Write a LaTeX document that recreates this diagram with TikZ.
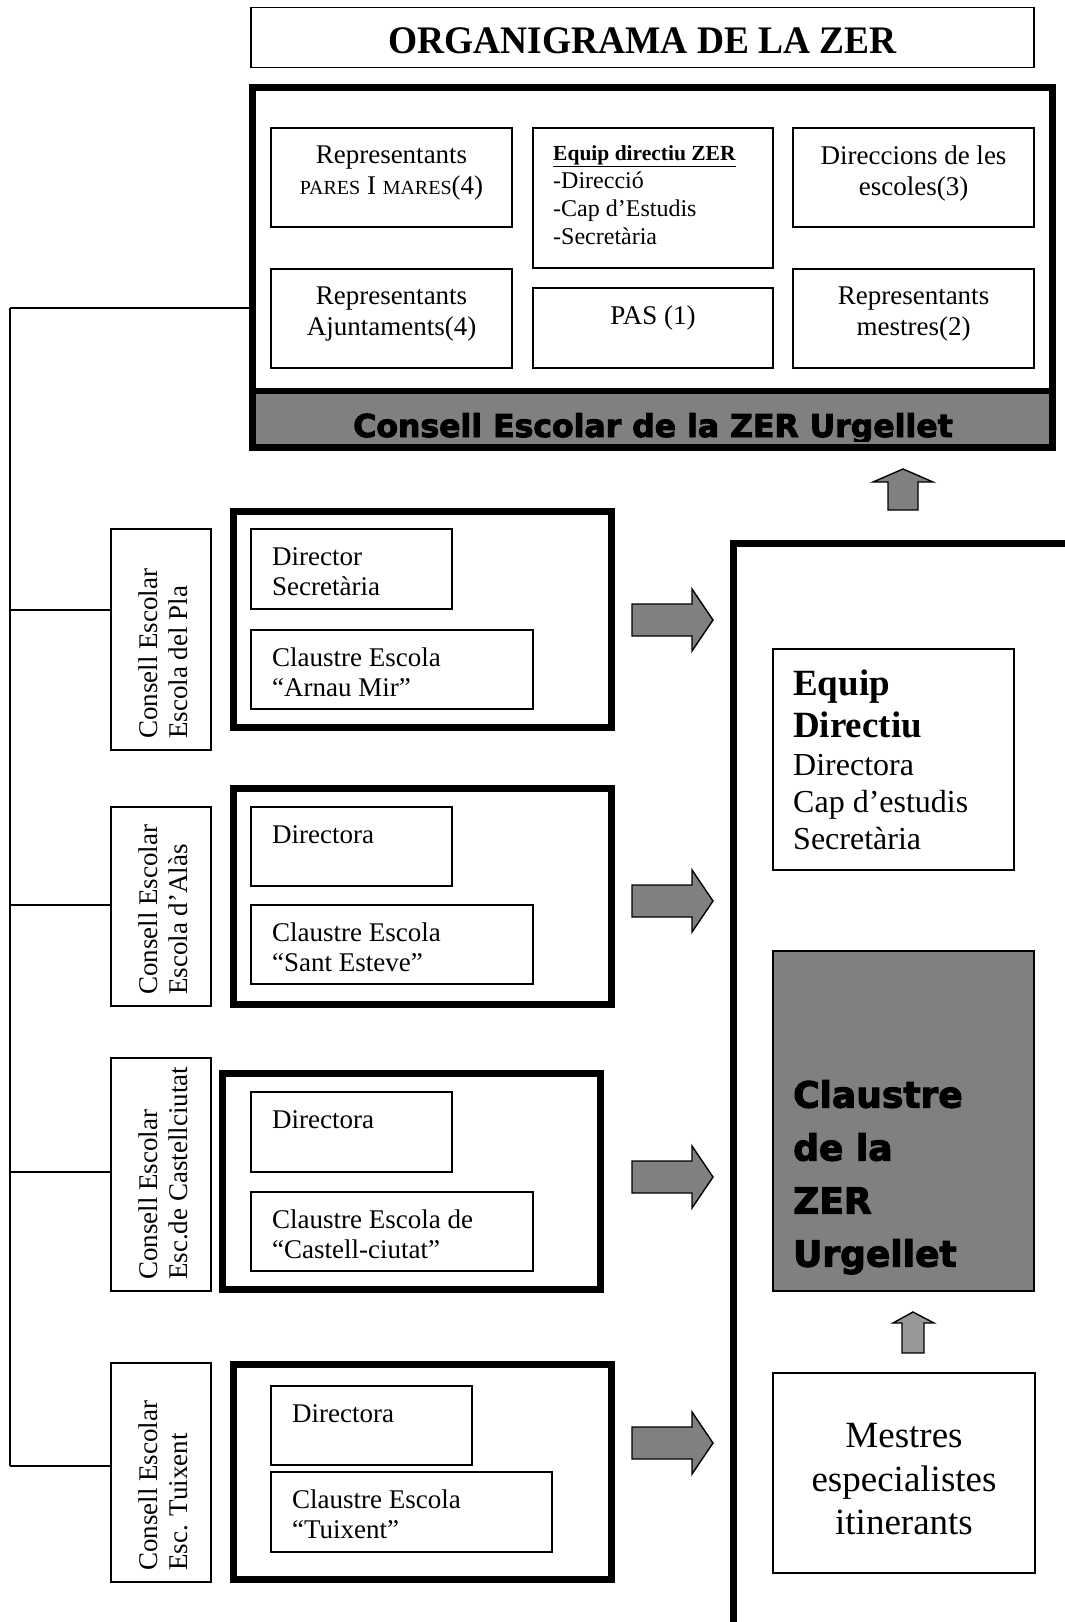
\documentclass[tikz,border=0pt]{standalone}
\usepackage{fontspec}
\setmainfont{Liberation Serif}
\newfontfamily\heavyfont[BoldFeatures={FakeBold=3}]{DejaVu Sans}
\usepackage{graphicx}
\usetikzlibrary{calc}
\definecolor{bargray}{HTML}{808080}
\definecolor{arrowgray}{HTML}{808080}
\definecolor{lightarrow}{HTML}{989898}
\newcommand\fsc[1]{{\fontsize{20}{31}\selectfont #1}}
\begin{document}
\begin{tikzpicture}[x=1pt,y=-1pt,
  thinbox/.style={draw, line width=1.6pt, inner sep=0pt, outer sep=0pt, anchor=north west},
  thickbox/.style={draw, line width=7pt, inner sep=0pt, outer sep=0pt, anchor=north west},
  txt/.style={inner sep=0pt, font=\fontsize{27}{31}\selectfont},
  schooltxt/.style={inner sep=0pt, anchor=north west, align=left, font=\fontsize{27}{30}\selectfont},
  rottxt/.style={inner sep=0pt, rotate=90, anchor=north west, align=left, font=\fontsize{27}{30}\selectfont},
  heavy/.style={inner sep=0pt, font=\heavyfont\bfseries},
  blockarrow/.style={fill=arrowgray, draw=black, line width=1.4pt, line join=miter},
  conn/.style={draw, line width=1.6pt}]
\useasboundingbox (0,0) rectangle (1065,1622);
\fill[white] (0,0) rectangle (1065,1622);

% Title
\node[thinbox, minimum width=783pt, minimum height=60pt] (title) at (251,7.5) {};
\node[inner sep=0pt, anchor=base, font=\fontsize{39}{44}\selectfont\bfseries] (titletext) at ([yshift=-15.5pt]title.center) {\scalebox{0.96}[1]{ORGANIGRAMA DE LA ZER}};

% Consell Escolar de la ZER
\coordinate (sepl) at (252.5,391);
\coordinate (sepr) at (1052.5,391);
\fill[bargray] (sepl) rectangle (1052.5,447.5);
\begin{scope}
\clip (252.5,391) rectangle (1052.5,441);
\node[heavy, anchor=base, font=\heavyfont\bfseries\fontsize{31.5}{36}\selectfont] (cetext) at (653,437) {Consell Escolar de la ZER Urgellet};
\end{scope}
\node[thickbox, minimum width=800pt, minimum height=360pt] (ce) at (252.5,87.5) {};
\draw[line width=6pt] (sepl) -- (sepr);

\node[thinbox, minimum width=241pt, minimum height=99pt] (A) at (271,128) {};
\node[thinbox, minimum width=240pt, minimum height=140pt] (B) at (533,128) {};
\node[thinbox, minimum width=241pt, minimum height=99pt] (C) at (793,128) {};
\node[thinbox, minimum width=241pt, minimum height=99pt] (D) at (271,269) {};
\node[thinbox, minimum width=240pt, minimum height=80pt] (E) at (533,288) {};
\node[thinbox, minimum width=241pt, minimum height=99pt] (F) at (793,269) {};

\node[txt, anchor=north, align=center] (Atext) at ([yshift=-18pt]A.north) {Representants\\\fsc{PARES} I \fsc{MARES}(4)};
\node[inner sep=0pt, anchor=north west, align=left, font=\fontsize{24}{28}\selectfont] (Btext) at ([xshift=20pt,yshift=-17pt]B.north west) {{\fontsize{21.5}{28}\selectfont\bfseries\underline{Equip directiu ZER}}\\-Direcció\\-Cap d’Estudis\\-Secretària};
\node[txt, anchor=north, align=center] (Ctext) at ([yshift=-18pt]C.north) {Direccions de les\\escoles(3)};
\node[txt, anchor=north, align=center] (Dtext) at ([yshift=-18pt]D.north) {Representants\\Ajuntaments(4)};
\node[txt, anchor=north, align=center] (Etext) at ([yshift=-18pt]E.north) {PAS (1)};
\node[txt, anchor=north, align=center] (Ftext) at ([yshift=-18pt]F.north) {Representants\\mestres(2)};

% Consell Escolar boxes (rotated)
\node[thinbox, minimum width=100pt, minimum height=221pt] (S1) at (111,529) {};
\node[thinbox, minimum width=100pt, minimum height=199pt] (S2) at (111,807) {};
\node[thinbox, minimum width=100pt, minimum height=233pt] (S3) at (111,1058) {};
\node[thinbox, minimum width=100pt, minimum height=219pt] (S4) at (111,1363) {};
\node[rottxt] (S1t) at ([xshift=28pt,yshift=11pt]S1.south west) {Consell Escolar\\Escola del Pla};
\node[rottxt] (S2t) at ([xshift=28pt,yshift=11pt]S2.south west) {Consell Escolar\\Escola d’Alàs};
\node[rottxt] (S3t) at ([xshift=28pt,yshift=11pt]S3.south west) {Consell Escolar\\Esc.de Castellciutat};
\node[rottxt] (S4t) at ([xshift=28pt,yshift=11pt]S4.south west) {Consell Escolar\\Esc. Tuixent};

% School blocks
\node[thickbox, minimum width=378pt, minimum height=216pt] (T1) at (233.5,511.5) {};
\node[thickbox, minimum width=378pt, minimum height=216pt] (T2) at (233.5,788.5) {};
\node[thickbox, minimum width=378pt, minimum height=216pt] (T3) at (222.5,1073.5) {};
\node[thickbox, minimum width=378pt, minimum height=215pt] (T4) at (233.5,1364.5) {};

\node[thinbox, minimum width=201pt, minimum height=80pt] (T1a) at (251,529) {};
\node[thinbox, minimum width=282pt, minimum height=79pt] (T1b) at (251,630) {};
\node[thinbox, minimum width=201pt, minimum height=79pt] (T2a) at (251,807) {};
\node[thinbox, minimum width=282pt, minimum height=79pt] (T2b) at (251,905) {};
\node[thinbox, minimum width=201pt, minimum height=80pt] (T3a) at (251,1092) {};
\node[thinbox, minimum width=282pt, minimum height=79pt] (T3b) at (251,1192) {};
\node[thinbox, minimum width=201pt, minimum height=79pt] (T4a) at (271,1386) {};
\node[thinbox, minimum width=281pt, minimum height=80pt] (T4b) at (271,1472) {};

\node[schooltxt] (T1at) at ([xshift=21pt,yshift=-18pt]T1a.north west) {Director\\Secretària};
\node[schooltxt] (T1bt) at ([xshift=21pt,yshift=-18pt]T1b.north west) {Claustre Escola\\“Arnau Mir”};
\node[schooltxt] (T2at) at ([xshift=21pt,yshift=-18pt]T2a.north west) {Directora};
\node[schooltxt] (T2bt) at ([xshift=21pt,yshift=-18pt]T2b.north west) {Claustre Escola\\“Sant Esteve”};
\node[schooltxt] (T3at) at ([xshift=21pt,yshift=-18pt]T3a.north west) {Directora};
\node[schooltxt] (T3bt) at ([xshift=21pt,yshift=-18pt]T3b.north west) {Claustre Escola de\\“Castell-ciutat”};
\node[schooltxt] (T4at) at ([xshift=21pt,yshift=-18pt]T4a.north west) {Directora};
\node[schooltxt] (T4bt) at ([xshift=21pt,yshift=-18pt]T4b.north west) {Claustre Escola\\“Tuixent”};

% Left connector tree
\coordinate (jtop) at (10,308);
\coordinate (j1) at (10,610);
\coordinate (j2) at (10,905);
\coordinate (j3) at (10,1172);
\coordinate (j4) at (10,1466);
\draw[conn] (jtop) -- (j4);
\draw[conn] (jtop) -- (jtop -| ce.west);
\draw[conn] (j1) -- (j1 -| S1.west);
\draw[conn] (j2) -- (j2 -| S2.west);
\draw[conn] (j3) -- (j3 -| S3.west);
\draw[conn] (j4) -- (j4 -| S4.west);

% Right arrows
\foreach \c in {620,901,1177,1443} {
  \filldraw[blockarrow] (632,\c-16) -- (692,\c-16) -- (692,\c-31) -- (713,\c) -- (692,\c+31) -- (692,\c+16) -- (632,\c+16) -- cycle;
}

% Up arrow to Consell Escolar
\filldraw[blockarrow] (888,510) -- (888,482) -- (873,482) -- (903,469) -- (933,482) -- (918,482) -- (918,510) -- cycle;

% Right big box (open to the right and bottom)
\draw[line width=7pt, line join=miter] (733,1640) -- (733,543) -- (1080,543);

% Equip Directiu
\node[thinbox, minimum width=241pt, minimum height=221pt] (ED) at (773,649) {};
\node[inner sep=0pt, anchor=north west, align=left, font=\fontsize{37}{42}\selectfont\bfseries] (EDhead) at ([xshift=20pt,yshift=-20.5pt]ED.north west) {Equip\\Directiu};
\node[inner sep=0pt, anchor=north west, align=left, font=\fontsize{32}{37}\selectfont] (EDbody) at ([xshift=20pt,yshift=-104.8pt]ED.north west) {Directora\\Cap d’estudis\\Secretària};

% Claustre de la ZER
\node[thinbox, fill=bargray, minimum width=261pt, minimum height=340pt] (CZ) at (773,951) {};
\node[heavy, anchor=north west, align=left, font=\heavyfont\bfseries\fontsize{36}{53}\selectfont] (CZt) at ([xshift=20pt,yshift=-129pt]CZ.north west) {Claustre\\de la\\ZER\\Urgellet};

% small up arrow
\filldraw[blockarrow, fill=lightarrow] (902,1353) -- (902,1323) -- (893,1323) -- (913,1312) -- (934,1323) -- (924,1323) -- (924,1353) -- cycle;

% Mestres
\node[thinbox, minimum width=262pt, minimum height=200pt] (MS) at (773,1373) {};
\node[inner sep=0pt, anchor=north, align=center, font=\fontsize{37}{43.5}\selectfont] (MSt) at ([yshift=-50.5pt]MS.north) {Mestres\\especialistes\\itinerants};
\end{tikzpicture}
\end{document}
